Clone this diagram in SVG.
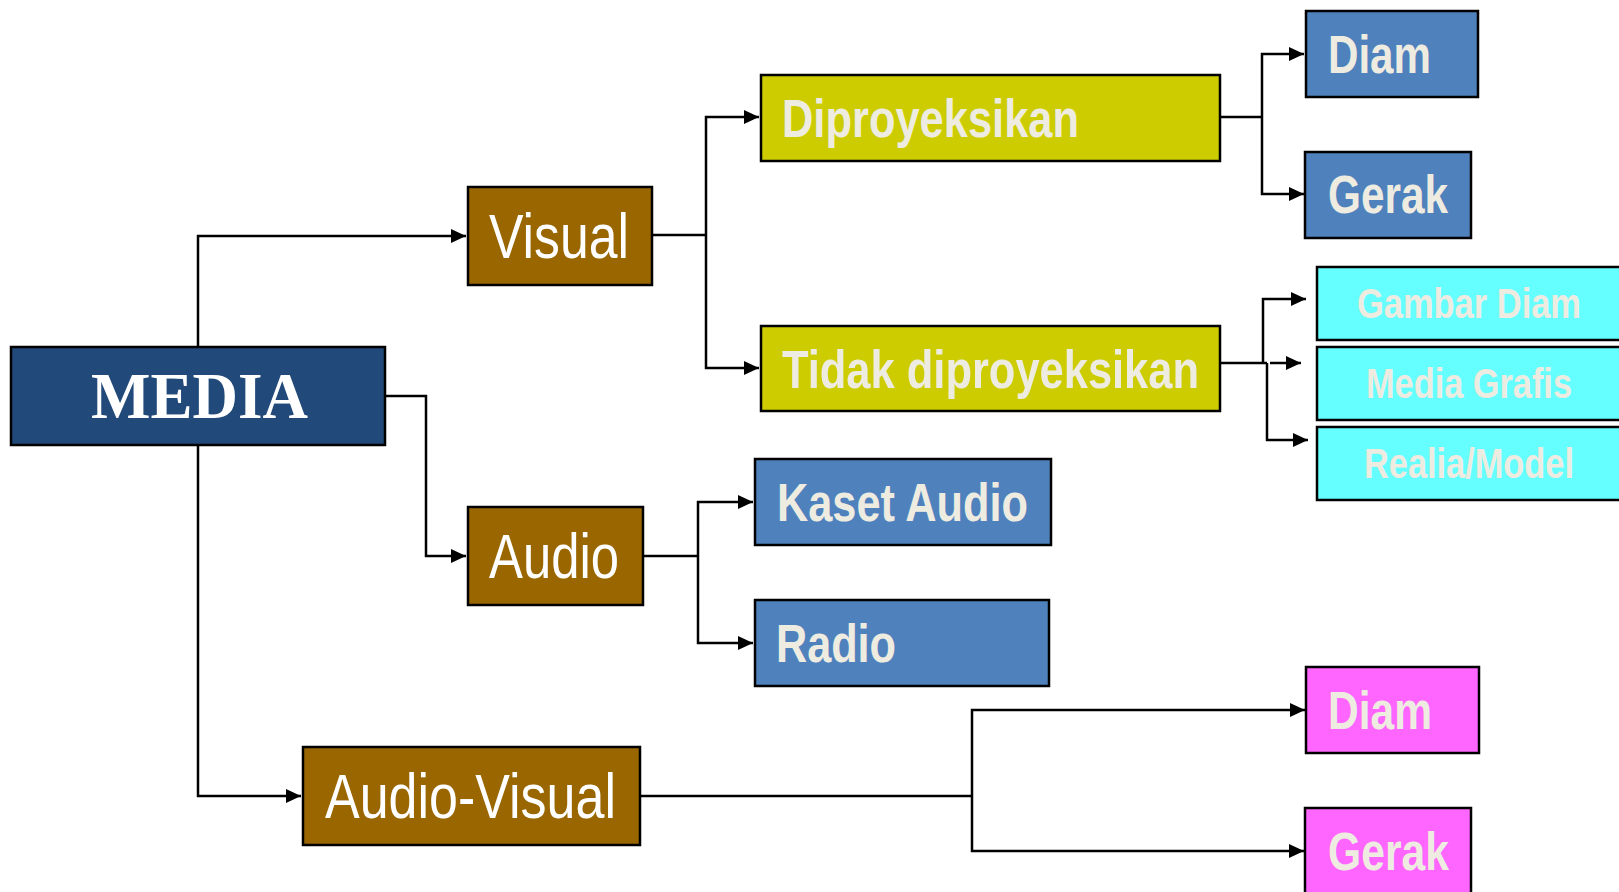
<svg xmlns="http://www.w3.org/2000/svg" width="1619" height="892" viewBox="0 0 1619 892">
<style>
.box{stroke:#000;stroke-width:2.5}
.media{fill:#21497A}
.brown{fill:#996600}
.olive{fill:#CCCC00}
.blue{fill:#4F81BD}
.cyan{fill:#66FFFF}
.pink{fill:#FF66FF}
.lbl{font-family:"Liberation Sans",Arial,sans-serif}
.w{fill:#FFFFFF;font-size:63px}
.b{fill:#EEECE1;font-weight:bold;font-size:53px}
.c{fill:#EEECE1;font-weight:bold;font-size:42px}
.ser{font-family:"Liberation Serif","Times New Roman",serif;font-weight:bold;font-size:65px;fill:#FFFFFF}
.con{fill:none;stroke:#000;stroke-width:2.5}
</style>
<defs>
<marker id="arr" markerUnits="userSpaceOnUse" markerWidth="16" markerHeight="16" refX="15" refY="7" orient="auto">
<path d="M0,0 L15,7 L0,14 z" fill="#000"/>
</marker>
</defs>
<g id="connectors">
<polyline class="con" points="198,347 198,236 466,236" marker-end="url(#arr)"/>
<polyline class="con" points="385,396 426,396 426,556 466,556" marker-end="url(#arr)"/>
<polyline class="con" points="198,445 198,796 301,796" marker-end="url(#arr)"/>
<polyline class="con" points="652,235 706,235"/>
<polyline class="con" points="706,235 706,117 759,117" marker-end="url(#arr)"/>
<polyline class="con" points="706,235 706,368 759,368" marker-end="url(#arr)"/>
<polyline class="con" points="1220,117 1262,117"/>
<polyline class="con" points="1262,117 1262,54 1304,54" marker-end="url(#arr)"/>
<polyline class="con" points="1262,117 1262,194 1304,194" marker-end="url(#arr)"/>
<polyline class="con" points="1220,363 1267,363"/>
<polyline class="con" points="1263,363 1263,299 1306,299" marker-end="url(#arr)"/>
<polyline class="con" points="1270,363 1301,363" marker-end="url(#arr)"/>
<polyline class="con" points="1267,363 1267,440 1308,440" marker-end="url(#arr)"/>
<polyline class="con" points="643,556 698,556"/>
<polyline class="con" points="698,556 698,502 753,502" marker-end="url(#arr)"/>
<polyline class="con" points="698,556 698,643 753,643" marker-end="url(#arr)"/>
<polyline class="con" points="640,796 972,796"/>
<polyline class="con" points="972,796 972,710 1305,710" marker-end="url(#arr)"/>
<polyline class="con" points="972,796 972,851 1304,851" marker-end="url(#arr)"/>
</g>
<g id="media">
<rect class="box media" x="11" y="347" width="374" height="98"/>
<text class="ser" x="91" y="418" textLength="217" lengthAdjust="spacingAndGlyphs">MEDIA</text>
</g>
<g id="visual">
<rect class="box brown" x="468" y="187" width="184" height="98"/>
<text class="lbl w" x="489" y="258" textLength="140" lengthAdjust="spacingAndGlyphs">Visual</text>
</g>
<g id="audio">
<rect class="box brown" x="468" y="507" width="175" height="98"/>
<text class="lbl w" x="489" y="578" textLength="130" lengthAdjust="spacingAndGlyphs">Audio</text>
</g>
<g id="audiovisual">
<rect class="box brown" x="303" y="747" width="337" height="98"/>
<text class="lbl w" x="325" y="818" textLength="291" lengthAdjust="spacingAndGlyphs">Audio-Visual</text>
</g>
<g id="diproyeksikan">
<rect class="box olive" x="761" y="75" width="459" height="86"/>
<text class="lbl b" x="782" y="137" textLength="297" lengthAdjust="spacingAndGlyphs">Diproyeksikan</text>
</g>
<g id="tidak">
<rect class="box olive" x="761" y="326" width="459" height="85"/>
<text class="lbl b" x="782" y="388" textLength="417" lengthAdjust="spacingAndGlyphs">Tidak diproyeksikan</text>
</g>
<g id="diam1">
<rect class="box blue" x="1306" y="11" width="172" height="86"/>
<text class="lbl b" x="1328" y="73" textLength="103" lengthAdjust="spacingAndGlyphs">Diam</text>
</g>
<g id="gerak1">
<rect class="box blue" x="1305" y="152" width="166" height="86"/>
<text class="lbl b" x="1328" y="213" textLength="120" lengthAdjust="spacingAndGlyphs">Gerak</text>
</g>
<g id="gambar">
<rect class="box cyan" x="1317" y="267" width="310" height="73"/>
<text class="lbl c" x="1357" y="318" textLength="224" lengthAdjust="spacingAndGlyphs">Gambar Diam</text>
</g>
<g id="grafis">
<rect class="box cyan" x="1317" y="347" width="310" height="73"/>
<text class="lbl c" x="1366" y="398" textLength="206" lengthAdjust="spacingAndGlyphs">Media Grafis</text>
</g>
<g id="realia">
<rect class="box cyan" x="1317" y="427" width="310" height="73"/>
<text class="lbl c" x="1364" y="478" textLength="210" lengthAdjust="spacingAndGlyphs">Realia/Model</text>
</g>
<g id="kaset">
<rect class="box blue" x="755" y="459" width="296" height="86"/>
<text class="lbl b" x="777" y="521" textLength="251" lengthAdjust="spacingAndGlyphs">Kaset Audio</text>
</g>
<g id="radio">
<rect class="box blue" x="755" y="600" width="294" height="86"/>
<text class="lbl b" x="776" y="662" textLength="120" lengthAdjust="spacingAndGlyphs">Radio</text>
</g>
<g id="diam2">
<rect class="box pink" x="1306" y="667" width="173" height="86"/>
<text class="lbl b" x="1328" y="729" textLength="104" lengthAdjust="spacingAndGlyphs">Diam</text>
</g>
<g id="gerak2">
<rect class="box pink" x="1305" y="808" width="166" height="90"/>
<text class="lbl b" x="1328" y="870" textLength="121" lengthAdjust="spacingAndGlyphs">Gerak</text>
</g>
</svg>
